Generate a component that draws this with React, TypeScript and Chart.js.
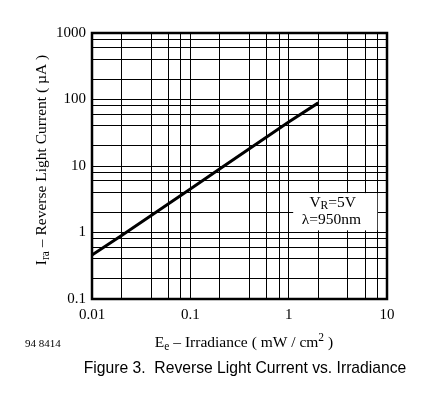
import React, { useEffect, useRef } from "react";
import { Chart, registerables } from "chart.js";

Chart.register(...registerables);

// Data
const irradiance = [0.01, 0.02, 0.1, 0.2, 1, 2];
const reverseCurrent = [0.46, 0.9, 4.5, 9.1, 46, 89];

const xGridValues = [0.01, 0.02, 0.04, 0.06, 0.08, 0.1, 0.2, 0.4, 0.6, 0.8, 1, 2, 4, 6, 8, 10];
const yGridValues = [0.1, 0.2, 0.4, 0.6, 0.8, 1, 2, 4, 6, 8, 10, 20, 40, 60, 80, 100, 200, 400, 600, 800, 1000];
const xTickLabels = ["0.01", "0.1", "1", "10"];
const yTickLabels = ["0.1", "1", "10", "100", "1000"];

const SERIF = "'Liberation Serif', 'Times New Roman', serif";
const SANS = "'Liberation Sans', Arial, sans-serif";

type Seg = { t: string; size: number; dy: number };

function drawRich(ctx: CanvasRenderingContext2D, segs: Seg[], cx: number, baseline: number) {
  let total = 0;
  for (const s of segs) {
    ctx.font = `${s.size}px ${SERIF}`;
    total += ctx.measureText(s.t).width;
  }
  let x = cx - total / 2;
  ctx.textAlign = "left";
  ctx.textBaseline = "alphabetic";
  for (const s of segs) {
    ctx.font = `${s.size}px ${SERIF}`;
    ctx.fillText(s.t, x, baseline + s.dy);
    x += ctx.measureText(s.t).width;
  }
}

const labelFor = (list: string[]) => (v: number | string) => {
  const n = Number(v);
  const hit = list.find((l) => Math.abs(Number(l) - n) / n < 1e-6);
  return hit ?? "";
};

const decorPlugin = {
  id: "decor",
  afterDatasetsDraw(chart: any) {
    const { ctx, chartArea } = chart;
    const { left, top, right, bottom } = chartArea;
    const w = right - left;
    const h = bottom - top;
    ctx.save();
    // annotation box
    const bx = left + w * 0.682;
    const by = top + h * 0.602;
    const bw = w * 0.285;
    const bh = h * 0.14;
    ctx.fillStyle = "#fff";
    ctx.fillRect(bx, by, bw, bh);
    ctx.fillStyle = "#000";
    drawRich(ctx, [
      { t: "V", size: 15.5, dy: 0 },
      { t: "R", size: 11.5, dy: 2 },
      { t: "=5V", size: 15.5, dy: 0 },
    ], bx + bw * 0.47, by + 14);
    drawRich(ctx, [{ t: "\u03bb=950nm", size: 15.5, dy: 0 }], bx + bw * 0.455, by + 31);
    // frame
    ctx.strokeStyle = "#000";
    ctx.lineWidth = 2.5;
    ctx.strokeRect(left, top, w, h);
    ctx.restore();
  },
  afterDraw(chart: any) {
    const { ctx, chartArea } = chart;
    const { top, bottom } = chartArea;
    ctx.save();
    ctx.fillStyle = "#000";
    // x title
    drawRich(ctx, [
      { t: "E", size: 15.5, dy: 0 },
      { t: "e", size: 11.5, dy: 3 },
      { t: " \u2013 Irradiance ( mW / cm", size: 15.5, dy: 0 },
      { t: "2", size: 11.5, dy: -6 },
      { t: " )", size: 15.5, dy: 0 },
    ], 244, 347);
    // figure number
    ctx.font = `11px ${SERIF}`;
    ctx.textAlign = "left";
    ctx.fillText("94 8414", 25, 347);
    // caption
    ctx.font = `15.7px ${SANS}`;
    ctx.textAlign = "center";
    ctx.fillText("Figure 3.  Reverse Light Current vs. Irradiance", 245, 373);
    // y title
    ctx.translate(45.5, (top + bottom) / 2 - 6);
    ctx.rotate(-Math.PI / 2);
    drawRich(ctx, [
      { t: "I", size: 15.5, dy: 0 },
      { t: "ra", size: 11.5, dy: 3 },
      { t: " \u2013 Reverse Light Current ( \u00b5A )", size: 15.5, dy: 0 },
    ], 0, 0);
    ctx.restore();
  },
};

export default function App() {
  const ref = useRef<HTMLCanvasElement | null>(null);
  useEffect(() => {
    if (!ref.current) return;
    const chart = new Chart(ref.current, {
      type: "line",
      data: {
        datasets: [
          {
            data: irradiance.map((x, i) => ({ x, y: reverseCurrent[i] })),
            borderColor: "#000",
            borderWidth: 3,
            pointRadius: 0,
            tension: 0,
            fill: false,
          },
        ],
      },
      options: {
        animation: false,
        responsive: false,
        events: [],
        layout: { padding: { left: 0, top: 33, right: 46, bottom: 0 } },
        plugins: { legend: { display: false }, tooltip: { enabled: false } },
        scales: {
          x: {
            type: "logarithmic",
            min: 0.01,
            max: 10,
            afterBuildTicks: (s: any) => {
              s.ticks = xGridValues.map((v) => ({ value: v }));
            },
            afterFit: (s: any) => {
              s.height = 95;
            },
            grid: { color: "#000", lineWidth: 1, drawTicks: false },
            border: { display: false },
            ticks: {
              autoSkip: false,
              maxRotation: 0,
              padding: 7,
              color: "#000",
              font: { family: SERIF, size: 15 },
              callback: labelFor(xTickLabels),
            },
          },
          y: {
            type: "logarithmic",
            min: 0.1,
            max: 1000,
            afterBuildTicks: (s: any) => {
              s.ticks = yGridValues.map((v) => ({ value: v }));
            },
            afterFit: (s: any) => {
              s.width = 92;
            },
            grid: { color: "#000", lineWidth: 1, drawTicks: false },
            border: { display: false },
            ticks: {
              autoSkip: false,
              padding: 6,
              color: "#000",
              font: { family: SERIF, size: 15 },
              callback: labelFor(yTickLabels),
            },
          },
        },
      },
      plugins: [decorPlugin],
    } as any);
    return () => chart.destroy();
  }, []);
  return (
    <div style={{ position: "fixed", left: 0, top: 0, width: 433, height: 394, background: "#fff" }}>
      <canvas ref={ref} width={433} height={394} style={{ display: "block" }} />
    </div>
  );
}
